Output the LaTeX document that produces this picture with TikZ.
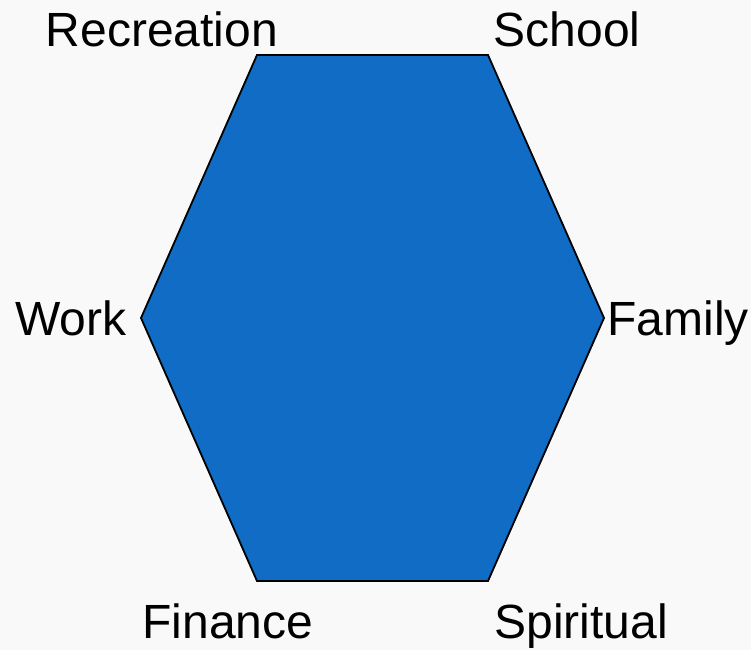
\documentclass[tikz,border=0pt]{standalone}
\usepackage{fontspec}
\setmainfont{Liberation Sans}
\definecolor{hexblue}{HTML}{106CC4}
\definecolor{bgpaper}{HTML}{F9F9F9}
\tikzset{
  lbl/.style={anchor=base, font=\fontsize{48}{52}\selectfont, text=black, inner sep=0pt},
  hexshape/.style={fill=hexblue, draw=black, line width=1.8pt, line join=miter}
}
\begin{document}
\begin{tikzpicture}[x=1pt,y=-1pt]
\fill[bgpaper] (0,0) rectangle (751,650);
\useasboundingbox (0,0) rectangle (751,650);
\coordinate (tl) at (257,55);
\coordinate (tr) at (488,55);
\coordinate (r) at (604,318);
\coordinate (br) at (488,581);
\coordinate (bl) at (257,581);
\coordinate (l) at (141,318);
\draw[hexshape] (tl) -- (tr) -- (r) -- (br) -- (bl) -- (l) -- cycle;
\node[lbl] (rec) at (162,47) {Recreation};
\node[lbl] (sch) at (567,47) {School};
\node[lbl] (wrk) at (71,335) {Work};
\node[lbl] (fam) at (678,335) {Family};
\node[lbl] (fin) at (228,638) {Finance};
\node[lbl] (spi) at (581,638) {Spiritual};
\end{tikzpicture}
\end{document}
